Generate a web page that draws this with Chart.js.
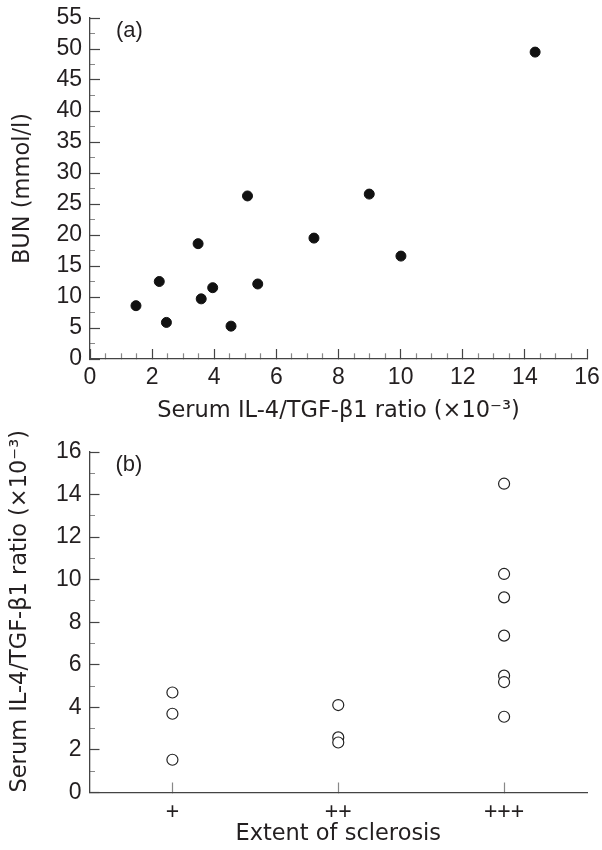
<!DOCTYPE html>
<html>
<head>
<meta charset="utf-8">
<script src="https://cdn.jsdelivr.net/npm/chart.js@4"></script>
<style>
  body { margin: 0; background: #fff; }
  canvas { display: block; }
</style>
</head>
<body>
<canvas id="chartA" width="602" height="425"></canvas>
<canvas id="chartB" width="602" height="425"></canvas>
<script>
// (a) BUN vs serum IL-4/TGF-b1 ratio
const ratioA = [1.48, 2.23, 2.46, 3.48, 3.58, 3.95, 4.54, 5.07, 5.40, 7.21, 8.99, 10.01, 14.33];
const bunA = [8.6, 12.5, 5.9, 18.6, 9.7, 11.5, 5.3, 26.3, 12.1, 19.5, 26.6, 16.6, 49.5];

// (b) ratio by extent of sclerosis
const groups = ['+', '++', '+++'];
const ratioPlus = [4.70, 3.70, 1.54];
const ratioPlus2 = [4.11, 2.59, 2.35];
const ratioPlus3 = [14.51, 10.27, 9.17, 7.37, 5.49, 5.19, 3.56];

const ink = '#231f20';
const axisColor = '#444';
const minorColor = '#888';
const tickFont = { family: '"Liberation Sans", Arial, sans-serif', size: 23 };
const titleFont = { family: '"DejaVu Sans", sans-serif', size: 22.5 };

Chart.defaults.font.family = tickFont.family;
Chart.defaults.color = ink;

// small plugin for the panel letter
const panelLabel = {
  id: 'panelLabel',
  afterDraw(chart, args, opts) {
    const ctx = chart.ctx;
    ctx.save();
    ctx.font = '22px ' + tickFont.family;
    ctx.fillStyle = ink;
    ctx.textBaseline = 'middle';
    ctx.fillText(opts.text, chart.chartArea.left + 26, chart.chartArea.top + 13);
    ctx.restore();
  }
};

// major ticks full length, minor ticks shorter (dash trick)
function leftTickDash(isMajor, minorLen) {
  return isMajor ? [] : [0, 10 - minorLen, minorLen, 100];
}

function fixX(h) {
  return s => { s.height = h; s.paddingLeft = 0; s.paddingRight = 0; };
}
function fixY(w) {
  return s => { s.width = w; s.paddingTop = 0; s.paddingBottom = 0; };
}

const pointsA = ratioA.map((x, i) => ({ x: x, y: bunA[i] }));

new Chart(document.getElementById('chartA'), {
  type: 'scatter',
  data: {
    datasets: [{
      data: pointsA,
      backgroundColor: '#111',
      borderColor: '#111',
      pointRadius: 5,
      pointBorderWidth: 1
    }]
  },
  options: {
    responsive: false,
    animation: false,
    layout: { padding: { top: 18, right: 15, left: 0, bottom: 0 } },
    plugins: { legend: { display: false }, tooltip: { enabled: false }, panelLabel: { text: '(a)' } },
    scales: {
      x: {
        type: 'linear', min: 0, max: 16,
        afterFit: fixX(66),
        afterBuildTicks: s => { s.ticks = []; for (let v = 0; v <= 16; v += 0.5) s.ticks.push({ value: v }); },
        ticks: {
          autoSkip: false, maxRotation: 0, padding: 15, font: tickFont, color: ink,
          callback: v => (v % 2 === 0 ? String(v) : '')
        },
        grid: {
          drawOnChartArea: false, tickLength: -10, tickWidth: 1.2,
          tickColor: c => (c.tick && c.tick.value % 2 === 0 ? axisColor : minorColor),
          tickBorderDash: c => (c.tick && c.tick.value % 2 === 0 ? [] : [6, 100])
        },
        border: { display: true, color: axisColor, width: 1.3 },
        title: {
          display: true, text: 'Serum IL-4/TGF-β1 ratio (×10⁻³)', font: titleFont, color: ink,
          padding: { top: 0, bottom: 0 }
        }
      },
      y: {
        type: 'linear', min: 0, max: 55,
        afterFit: fixY(90),
        afterBuildTicks: s => { s.ticks = []; for (let v = 0; v <= 55; v += 2.5) s.ticks.push({ value: v }); },
        ticks: {
          autoSkip: false, padding: 18, font: tickFont, color: ink,
          callback: v => (v % 5 === 0 ? String(v) : '')
        },
        grid: {
          drawOnChartArea: false, tickLength: -10, tickWidth: 1.2,
          tickColor: c => (c.tick && c.tick.value % 5 === 0 ? axisColor : minorColor),
          tickBorderDash: c => leftTickDash(c.tick && c.tick.value % 5 === 0, 5)
        },
        border: { display: true, color: axisColor, width: 1.3 },
        title: {
          display: true, text: 'BUN (mmol/l)', font: titleFont, color: ink,
          padding: { top: 10, bottom: 0 }
        }
      }
    }
  },
  plugins: [panelLabel]
});

const pointsB = []
  .concat(ratioPlus.map(v => ({ x: groups[0], y: v })))
  .concat(ratioPlus2.map(v => ({ x: groups[1], y: v })))
  .concat(ratioPlus3.map(v => ({ x: groups[2], y: v })));

new Chart(document.getElementById('chartB'), {
  type: 'scatter',
  data: {
    labels: groups,
    datasets: [{
      data: pointsB,
      backgroundColor: '#fff',
      borderColor: '#222',
      pointRadius: 5.5,
      pointBorderWidth: 1.2
    }]
  },
  options: {
    responsive: false,
    animation: false,
    layout: { padding: { top: 27, right: 15, left: 0, bottom: 0 } },
    plugins: { legend: { display: false }, tooltip: { enabled: false }, panelLabel: { text: '(b)' } },
    scales: {
      x: {
        type: 'category', labels: groups, offset: true,
        afterFit: fixX(57.5),
        ticks: { autoSkip: false, maxRotation: 0, padding: 16, font: tickFont, color: ink },
        grid: {
          offset: false, drawOnChartArea: false, tickLength: -10, tickWidth: 1.2, tickColor: minorColor
        },
        border: { display: true, color: axisColor, width: 1.3 },
        title: {
          display: true, text: 'Extent of sclerosis', font: titleFont, color: ink,
          padding: { top: 0, bottom: 2 }
        }
      },
      y: {
        type: 'linear', min: 0, max: 16,
        afterFit: fixY(89.5),
        afterBuildTicks: s => { s.ticks = []; for (let v = 0; v <= 16; v += 1) s.ticks.push({ value: v }); },
        ticks: {
          autoSkip: false, padding: 18, font: tickFont, color: ink,
          callback: v => (v % 2 === 0 ? String(v) : '')
        },
        grid: {
          drawOnChartArea: false, tickLength: -10, tickWidth: 1.2,
          tickColor: c => (c.tick && c.tick.value % 2 === 0 ? axisColor : minorColor),
          tickBorderDash: c => leftTickDash(c.tick && c.tick.value % 2 === 0, 5.5)
        },
        border: { display: true, color: axisColor, width: 1.3 },
        title: {
          display: true, text: 'Serum IL-4/TGF-β1 ratio (×10⁻³)', font: titleFont, color: ink,
          align: 'start', padding: { top: 7, bottom: 0 }
        }
      }
    }
  },
  plugins: [panelLabel]
});
</script>
</body>
</html>
